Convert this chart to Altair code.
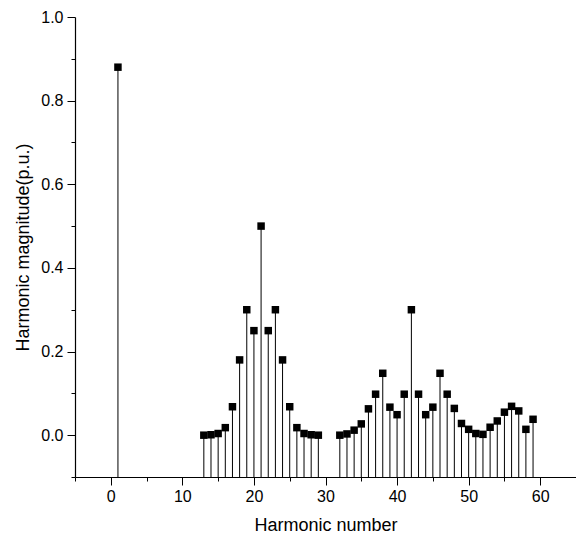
import altair as alt
import pandas as pd

harmonic_numbers = [1,
                    13, 14, 15, 16, 17, 18, 19, 20, 21, 22, 23, 24, 25, 26, 27, 28, 29,
                    32, 33, 34, 35, 36, 37, 38, 39, 40, 41, 42, 43, 44, 45, 46, 47, 48,
                    49, 50, 51, 52, 53, 54, 55, 56, 57, 58, 59]
magnitudes = [0.88,
              0.0, 0.001, 0.004, 0.018, 0.068, 0.18, 0.30, 0.25, 0.50, 0.25, 0.30, 0.18, 0.068, 0.018, 0.004, 0.001, 0.0,
              0.0, 0.003, 0.012, 0.027, 0.063, 0.098, 0.148, 0.067, 0.049, 0.098, 0.30, 0.098, 0.049, 0.067, 0.148, 0.098, 0.064,
              0.028, 0.014, 0.004, 0.002, 0.019, 0.034, 0.055, 0.069, 0.058, 0.014, 0.038]

x_major_ticks = [0, 10, 20, 30, 40, 50, 60]
x_minor_ticks = [-5, 5, 15, 25, 35, 45, 55, 65]
y_major_ticks = [0.0, 0.2, 0.4, 0.6, 0.8, 1.0]
y_minor_ticks = [-0.1, 0.1, 0.3, 0.5, 0.7, 0.9]

df = pd.DataFrame({"h": harmonic_numbers, "m": magnitudes})

FONT = "Liberation Sans"
xscale = alt.Scale(domain=[-5, 65], nice=False, zero=False)
yscale = alt.Scale(domain=[-0.1, 1.0], nice=False, zero=False)

x_major_axis = alt.Axis(values=x_major_ticks, format="d", orient="bottom", grid=False,
                        tickSize=8, tickColor="black", tickWidth=1,
                        domainColor="black", domainWidth=1.2,
                        labelFont=FONT, labelFontSize=16, labelColor="black", labelPadding=3,
                        title="Harmonic number", titleFont=FONT, titleFontSize=18,
                        titleFontWeight="normal", titleColor="black", titlePadding=12)
x_minor_axis = alt.Axis(values=x_minor_ticks, orient="bottom", grid=False, labels=False,
                        domain=False, tickSize=4, tickColor="black", tickWidth=1, title=None)
y_major_axis = alt.Axis(values=y_major_ticks, format=".1f", orient="left", grid=False,
                        tickSize=8, tickColor="black", tickWidth=1,
                        domainColor="black", domainWidth=1.2,
                        labelFont=FONT, labelFontSize=16, labelColor="black", labelPadding=4,
                        title="Harmonic magnitude(p.u.)", titleFont=FONT, titleFontSize=18,
                        titleFontWeight="normal", titleColor="black", titlePadding=8)
y_minor_axis = alt.Axis(values=y_minor_ticks, orient="left", grid=False, labels=False,
                        domain=False, tickSize=4, tickColor="black", tickWidth=1, title=None)

base = alt.Chart(df)

stems = base.mark_rule(color="black", strokeWidth=1).encode(
    x=alt.X("h:Q", scale=xscale, axis=x_major_axis),
    y=alt.Y("m:Q", scale=yscale, axis=y_major_axis),
    y2=alt.datum(-0.1),
)

points = base.mark_square(size=56, color="black", opacity=1).encode(
    x=alt.X("h:Q", scale=xscale, axis=x_minor_axis),
    y=alt.Y("m:Q", scale=yscale, axis=y_minor_axis),
)

chart = alt.layer(stems, points).resolve_axis(x="independent", y="independent").properties(
    width=501, height=460,
    autosize=alt.AutoSizeParams(type="none"),
    padding={"left": 75, "top": 17, "right": 0, "bottom": 69},
    background="white",
).configure_view(stroke=None)

chart.save("out.html", embed_options={"renderer": "svg", "actions": False})
